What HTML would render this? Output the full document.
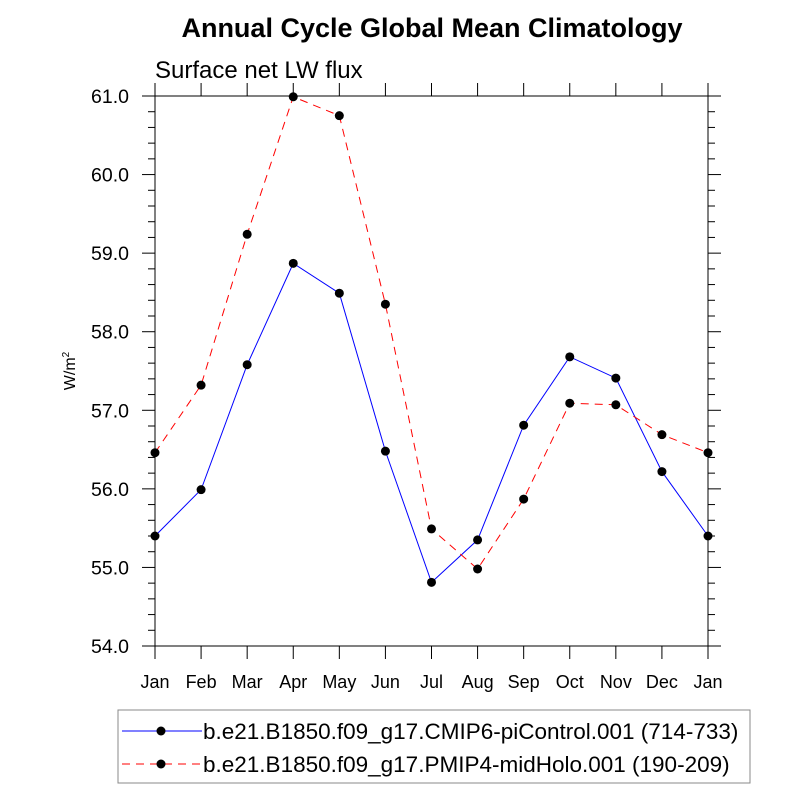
<!DOCTYPE html>
<html><head><meta charset="utf-8"><style>body{margin:0;background:#fff}svg{display:block}text{font-family:"Liberation Sans",sans-serif}</style></head>
<body>
<svg id="c" width="800" height="800">
<text x="432" y="37" font-size="27" font-weight="bold" text-anchor="middle">Annual Cycle Global Mean Climatology</text>
<text x="155" y="78" font-size="24">Surface net LW flux</text>
<text transform="translate(75,371) rotate(-90)" font-size="16" text-anchor="middle">W/m<tspan font-size="10" dy="-6">2</tspan></text>
<g id="g"></g>
<rect x="118" y="710" width="632" height="73" fill="none" stroke="#888"/>
<g>
<line x1="122" y1="731" x2="202" y2="731" stroke="#00f"/><circle cx="161" cy="731" r="4.5"/>
<text x="203" y="739" font-size="22.5">b.e21.B1850.f09_g17.CMIP6-piControl.001 (714-733)</text></g>
<g>
<line x1="122" y1="764" x2="202" y2="764" stroke="#f00" stroke-dasharray="8,6"/><circle cx="161" cy="764" r="4.5"/>
<text x="203" y="772" font-size="22.5">b.e21.B1850.f09_g17.PMIP4-midHolo.001 (190-209)</text></g>
</svg>
<script>
const months=["Jan","Feb","Mar","Apr","May","Jun","Jul","Aug","Sep","Oct","Nov","Dec","Jan"];
const piControl=[55.40,55.99,57.58,58.87,58.49,56.48,54.81,55.35,56.81,57.68,57.41,56.22,55.40];
const midHolo=[56.46,57.32,59.24,60.99,60.75,58.35,55.49,54.98,55.87,57.09,57.07,56.69,56.46];
const yTicks=["54.0","55.0","56.0","57.0","58.0","59.0","60.0","61.0"];
const X0=155,X1=708,Y0=646,Y1=96,ymin=54,ymax=61;
const xs=i=>X0+(X1-X0)*i/(months.length-1);
const ys=v=>Y0-(v-ymin)/(ymax-ymin)*(Y0-Y1);
const g=document.getElementById('g');const NS="http://www.w3.org/2000/svg";
function mk(t,a,p){const e=document.createElementNS(NS,t);for(const k in a)e.setAttribute(k,a[k]);(p||g).appendChild(e);return e;}
const fr=mk('rect',{x:X0,y:Y1,width:X1-X0,height:Y0-Y1,fill:'none',stroke:'#000','stroke-width':1});


months.forEach((m,i)=>{const x=xs(i);
mk('line',{x1:x,y1:Y0,x2:x,y2:Y0+13,stroke:'#000'});
mk('line',{x1:x,y1:Y1,x2:x,y2:Y1-13,stroke:'#000'});
const t=mk('text',{x:x,y:Y0+42,'font-size':18,'text-anchor':'middle'});t.textContent=m;

});
for(let v=ymin;v<=ymax+1e-9;v+=0.2){const y=ys(v);const maj=Math.abs(v-Math.round(v))<1e-6;const L=maj?13:7;
mk('line',{x1:X0-L,y1:y,x2:X0,y2:y,stroke:'#000'});mk('line',{x1:X1,y1:y,x2:X1+L,y2:y,stroke:'#000'});}
yTicks.forEach(s=>{const v=parseFloat(s);const t=mk('text',{x:X0-26,y:ys(v)+7,'font-size':19.5,'text-anchor':'end'});t.textContent=s;

});
function series(d,col,dash,name){const p=mk('polyline',{points:d.map((v,i)=>xs(i)+','+ys(v)).join(' '),fill:'none',stroke:col,'stroke-width':1,'stroke-dasharray':dash});


d.forEach((v,i)=>{const c=mk('circle',{cx:xs(i),cy:ys(v),r:4.5,fill:'#000'});

});}
series(piControl,'#00f','none','picontrol');
series(midHolo,'#f00','8,6','midholo');
</script>
</body></html>
